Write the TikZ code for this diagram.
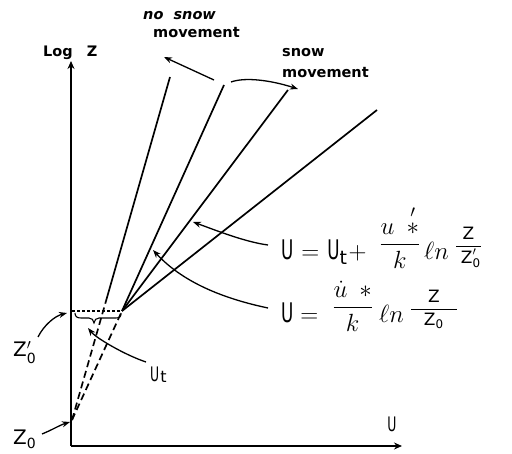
\documentclass[tikz,border=0pt]{standalone}
\usepackage{amsmath}
\usepackage{graphicx}
\usepackage{fontspec}
\setsansfont{DejaVu Sans}
\usetikzlibrary{arrows.meta,calc}
\newcommand{\narrowU}{\scalebox{0.62}[1]{\sffamily U}}
\newcommand{\sfZ}{\text{\sffamily Z}}
\newcommand{\liftfrac}[2]{\raisebox{9pt}{\fontsize{23}{24}\selectfont$\dfrac{#1}{#2}$}}
\newcommand{\liftzfrac}[2]{\raisebox{9pt}{\fontsize{17}{18}\selectfont$\dfrac{#1}{#2}$}}
\newcommand{\bigln}{{\fontsize{33}{34}\selectfont$\ell n$}}
\tikzset{
  axisline/.style={line width=2.2pt,-{Stealth[length=8pt,width=7pt]}},
  profile/.style={line width=1.7pt},
  dashprofile/.style={line width=1.7pt,dash pattern=on 7pt off 4pt},
  levelline/.style={line width=1.1pt,dash pattern=on 3pt off 2pt},
  bracepath/.style={line width=1.1pt},
  pointer/.style={line width=1.3pt,-{Stealth[length=8pt,width=6pt]}},
  lbl/.style={font=\sffamily\bfseries\fontsize{14.5}{18}\selectfont,inner sep=0pt},
  mathlbl/.style={font=\sffamily\fontsize{20}{24}\selectfont,inner sep=0pt},
  formula/.style={font=\fontsize{27}{30}\selectfont,inner sep=0pt,anchor=base west},
}
\begin{document}
\begin{tikzpicture}[x=1pt,y=-1pt]
\useasboundingbox (0,0) rectangle (512,454);
% key points
\coordinate (O) at (71,446);
\coordinate (ytip) at (71,61);
\coordinate (xtip) at (402,446);
\coordinate (Z0) at (72,420);
\coordinate (F) at (122,311);
\coordinate (L0) at (72,311);
\coordinate (T1) at (170,77);
\coordinate (M1) at ($(Z0)!0.35!(T1)$);
\coordinate (T2) at (224,85);
\coordinate (T3) at (288,90);
\coordinate (T4) at (377,110);
% axes
\draw[axisline] (O) -- (ytip);
\draw[axisline] (O) -- (xtip);
% profiles
\draw[dashprofile] (Z0) -- (M1);
\draw[profile] (M1) -- (T1);
\draw[dashprofile] (Z0) -- (F);
\draw[profile] (F) -- (T2);
\draw[profile] (F) -- (T3);
\draw[profile] (F) -- (T4);
\draw[levelline] (L0) -- (F);
% brace under the Z0' level
\draw[bracepath] (75,313) .. controls (75,316.5) and (77,318) .. (81,318) -- (89,318)
  .. controls (92,318) and (93.5,320) .. (94,323) .. controls (94.5,320) and (96,318) .. (99,318)
  -- (116,318) .. controls (120,318) and (121,316.5) .. (121,313);
% labels
\node[lbl,anchor=base west] (logz) at (43,57) {Log\hspace{14pt}Z};
\node[lbl,align=left,anchor=base west] (nosnow) at (153,38) {\hspace*{-10pt}\itshape no\ \ snow\\movement};
\node[lbl,align=left,anchor=base west,font=\sffamily\bfseries\fontsize{14.5}{21}\selectfont] (snow) at (282,78) {snow\\movement};
\node[mathlbl,anchor=base] (ulab) at (392,432) {\narrowU};
\node[mathlbl,anchor=base west] (utlab) at (150,382) {\narrowU\hspace{1pt}\raisebox{-1pt}{\fontsize{16}{16}\selectfont t}};
\node[mathlbl,anchor=base west] (z0plab) at (13,357) {Z$'_{\mathsf{0}}$};
\node[mathlbl,anchor=base west] (z0lab) at (13,445) {Z$_{\mathsf{0}}$};
\node[formula] (f1) at (281,260) {\narrowU\hspace{8pt}$=$\hspace{8pt}\narrowU$_{\mathsf{t}}$\hspace{1pt}$+$\hspace{13pt}\liftfrac{u\hspace{12pt}\overset{\prime}{\ast}}{k}\hspace{4pt}\bigln\hspace{6pt}\liftzfrac{\;\sfZ\;}{\;\sfZ_{\mathsf{0}}'}};
\node[formula] (f2) at (281,323) {\narrowU\hspace{7pt}$=$\hspace{14pt}\liftfrac{\dot{u}\hspace{12pt}\ast}{k}\hspace{6pt}\bigln\hspace{6pt}\liftzfrac{\quad\sfZ\quad}{\sfZ_{\mathsf{0}}}};
% pointer ends
\coordinate (nsTail) at (214,80);
\coordinate (nsTip) at (164,57);
\coordinate (sTail) at (231,82);
\coordinate (sTip) at (298,89);
\coordinate (f1tail) at (268,245);
\coordinate (f2tail) at (268,308);
\coordinate (uttail) at (146,362);
\coordinate (p1) at (193,222);
\coordinate (p2) at (153,250);
\coordinate (pUt) at (88,328);
\coordinate (z0ptail) at (38,337);
\coordinate (pZ0p) at (67,313);
\coordinate (z0tail) at (42,434);
\coordinate (pZ0) at (70,422);
% pointers
\draw[pointer] (nsTail) -- (nsTip);
\draw[pointer] (sTail) .. controls (245,77) and (270,80) .. (sTip);
\draw[pointer] (f1tail) .. controls (245,242) and (215,230) .. (p1);
\draw[pointer] (f2tail) .. controls (230,300) and (185,285) .. (p2);
\draw[pointer] (uttail) .. controls (125,355) and (96,338) .. (pUt);
\draw[pointer] (z0ptail) .. controls (44,325) and (55,316) .. (pZ0p);
\draw[pointer] (z0tail) .. controls (52,430) and (60,425) .. (pZ0);
\end{tikzpicture}
\end{document}
